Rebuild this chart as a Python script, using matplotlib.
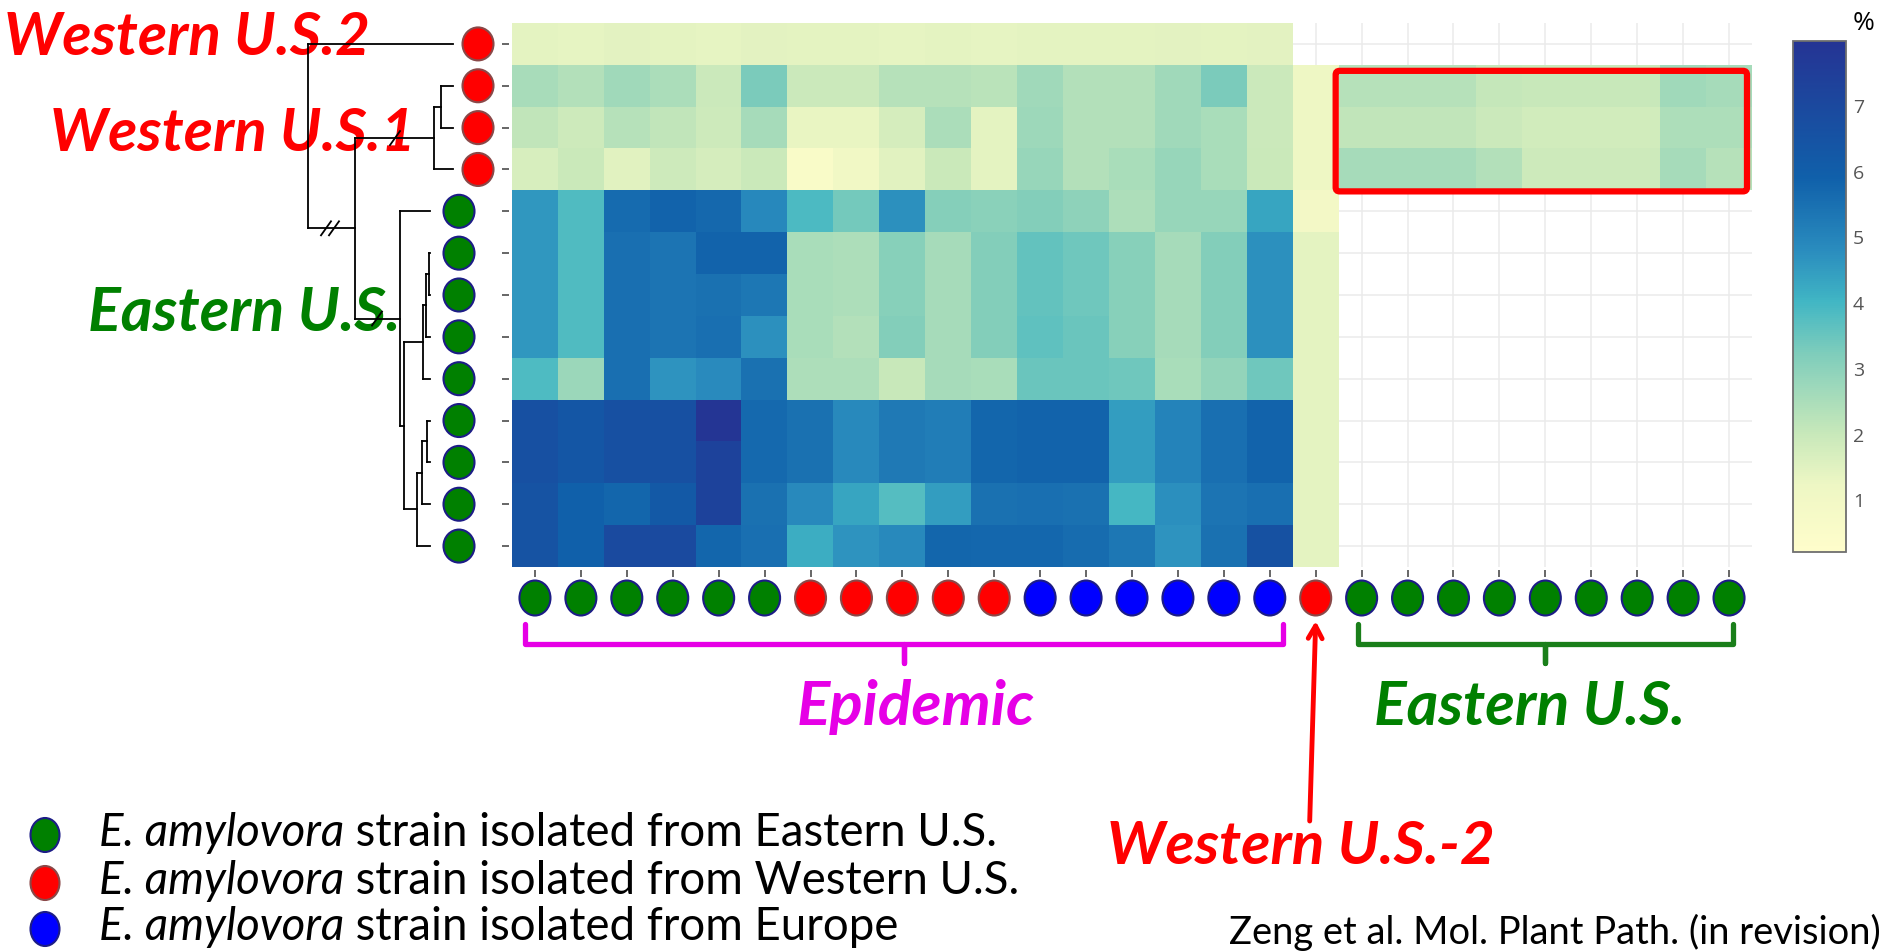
import numpy as np
import matplotlib
matplotlib.use('Agg')
import matplotlib.pyplot as plt
from matplotlib.colors import LinearSegmentedColormap, Normalize
from matplotlib.patches import Ellipse, FancyBboxPatch

nan = np.nan

# origin of each strain: E = Eastern U.S., W = Western U.S., EU = Europe
row_origin = ['W'] * 4 + ['E'] * 9
col_origin = ['E'] * 6 + ['W'] * 5 + ['EU'] * 6 + ['W'] + ['E'] * 9

# percentages per cell, rows top -> bottom, columns left -> right (nan = empty)
pct_wus2 = [
    [1.40, 1.38, 1.42, 1.40, 1.38, 1.42, 1.40, 1.40, 1.38, 1.40, 1.36, 1.40, 1.40, 1.40, 1.42, 1.40, 1.42] + [nan] * 10,
]
pct_wus1 = [
    [2.52, 2.35, 2.64, 2.47, 1.90, 3.26, 1.90, 1.90, 2.27, 2.27, 2.23, 2.65, 2.34, 2.34, 2.65, 3.26, 1.90, 1.20,
     2.27, 2.27, 2.27, 2.03, 1.98, 1.98, 1.98, 2.64, 2.55],
    [2.10, 1.87, 2.27, 2.10, 1.87, 2.55, 1.30, 1.30, 1.70, 2.46, 1.41, 2.69, 2.34, 2.34, 2.64, 2.50, 1.90, 1.20,
     2.10, 2.10, 2.10, 1.93, 1.80, 1.80, 1.80, 2.44, 2.44],
    [1.68, 1.96, 1.47, 1.87, 1.70, 1.96, 0.53, 0.99, 1.47, 1.96, 1.41, 2.81, 2.34, 2.50, 2.81, 2.50, 1.96, 1.20,
     2.55, 2.55, 2.55, 2.34, 1.87, 1.87, 1.87, 2.55, 2.27],
]
pct_eus = [
    [4.60, 3.80, 5.62, 5.81, 5.68, 4.90, 3.85, 3.35, 4.70, 3.10, 3.00, 3.13, 2.96, 2.44, 2.81, 2.81, 4.30, 0.87] + [nan] * 9,
    [4.60, 3.80, 5.51, 5.38, 5.81, 5.81, 2.50, 2.44, 3.08, 2.55, 3.13, 3.55, 3.40, 3.08, 2.55, 3.14, 4.70, 1.41] + [nan] * 9,
    [4.60, 3.80, 5.51, 5.38, 5.47, 5.30, 2.50, 2.44, 3.08, 2.55, 3.13, 3.55, 3.40, 3.08, 2.55, 3.14, 4.70, 1.41] + [nan] * 9,
    [4.60, 3.80, 5.51, 5.38, 5.51, 4.70, 2.50, 2.35, 3.13, 2.55, 3.13, 3.60, 3.45, 3.08, 2.55, 3.14, 4.70, 1.41] + [nan] * 9,
    [3.83, 2.73, 5.51, 4.65, 4.82, 5.47, 2.44, 2.44, 1.97, 2.55, 2.50, 3.45, 3.45, 3.40, 2.50, 2.86, 3.40, 1.41] + [nan] * 9,
    [6.63, 6.34, 6.63, 6.63, 7.90, 5.64, 5.47, 4.86, 5.25, 5.17, 5.75, 5.80, 5.80, 4.45, 5.00, 5.51, 5.80, 1.41] + [nan] * 9,
    [6.63, 6.34, 6.63, 6.63, 7.27, 5.64, 5.47, 4.86, 5.25, 5.17, 5.75, 5.80, 5.80, 4.45, 5.00, 5.51, 5.80, 1.41] + [nan] * 9,
    [6.49, 5.90, 5.73, 6.19, 7.27, 5.47, 4.85, 4.30, 3.75, 4.45, 5.47, 5.51, 5.47, 3.95, 4.75, 5.36, 5.51, 1.41] + [nan] * 9,
    [6.49, 5.90, 6.88, 6.88, 5.73, 5.51, 4.15, 4.65, 4.85, 5.73, 5.70, 5.70, 5.60, 5.30, 4.65, 5.47, 6.56, 1.41] + [nan] * 9,
]
pct = np.array(pct_wus2 + pct_wus1 + pct_eus)

# colour scale
scale_vals = [0.2, 1.2, 2.0, 3.2, 4.0, 4.8, 5.9, 7.97]
scale_cols = ['#fffdcb', '#eef7c4', '#c7e8ba', '#7fcdbb', '#41b6c4', '#2a8cbe', '#1060aa', '#253494']
cbar_ticks = [1, 2, 3, 4, 5, 6, 7]

# dendrogram: node -> (children, x of the node bar in px); ints are heatmap rows
tree = {
    'a': ([5, 6], 429),
    'b': (['a', 7], 426),
    'c': (['b', 8], 423),
    'd': ([9, 10], 427),
    'e': (['d', 11], 422),
    'f': (['e', 12], 417),
    'g': (['c', 'f'], 404),
    'h': ([4, 'g'], 400),
    'i': ([1, 2], 441),
    'j': (['i', 3], 434),
    'k': (['j', 'h'], 355),
    'root': ([0, 'k'], 308),
}
leaf_tip = [453] * 4 + [430] * 9
# broken branches: (node the branch leads to, x, number of slashes)
breaks = [('k', 326, 2), ('j', 395, 1), ('h', 377, 1)]

legend_regions = ['Eastern U.S.', 'Western U.S.', 'Europe']
legend_origin = ['E', 'W', 'EU']

fill = {'E': '#008000', 'W': '#ff0000', 'EU': '#0000ff'}
edge = {'E': '#1c1c86', 'W': '#8a4848', 'EU': '#1c1c86'}

# ---- layout (pixels) ----
W, H = 1886, 953
hm_left, hm_top, hm_right, hm_bottom = 512, 24, 1752, 568
nrow, ncol = pct.shape
cw = (hm_right - hm_left) / ncol
rh = (hm_bottom - hm_top) / nrow


def cx(j):
    return hm_left + (j + 0.5) * cw


def ry(i):
    return hm_top + (i + 0.5) * rh


cmap = LinearSegmentedColormap.from_list(
    'pct', [((v - scale_vals[0]) / (scale_vals[-1] - scale_vals[0]), c) for v, c in zip(scale_vals, scale_cols)])
cmap.set_bad((1, 1, 1, 0))
norm = Normalize(scale_vals[0], scale_vals[-1])

fig = plt.figure(figsize=(W / 100, H / 100), dpi=100)

# heatmap
ax = fig.add_axes([hm_left / W, 1 - hm_bottom / H, (hm_right - hm_left) / W, (hm_bottom - hm_top) / H])
im = ax.imshow(np.ma.masked_invalid(pct), cmap=cmap, norm=norm, aspect='auto',
               interpolation='nearest', zorder=1)
ax.set_xlim(-0.5, ncol - 0.5)
ax.set_ylim(nrow - 0.5, -0.5)
ax.set_xticks(range(ncol))
ax.set_yticks(range(nrow))
ax.set_xticklabels([])
ax.set_yticklabels([])
for s in ax.spines.values():
    s.set_visible(False)
ax.spines['left'].set_position(('outward', 2))
ax.spines['bottom'].set_position(('outward', 2))
ax.tick_params(length=5, width=1.2, color='#4d4d4d')
ax.set_axisbelow(True)
ax.grid(color='#ebebeb', lw=1.1)

# colour bar
cax = fig.add_axes([1793 / W, 1 - 553 / H, 53 / W, 511 / H])
cb = fig.colorbar(im, cax=cax, ticks=cbar_ticks)
cb.outline.set_edgecolor('#6e6e6e')
cb.outline.set_linewidth(1.3)
cax.tick_params(length=0, labelsize=14, labelcolor='#555555', pad=5)
for lbl in cax.get_yticklabels():
    lbl.set_fontfamily('Open Sans')

# everything else drawn in pixel space
ov = fig.add_axes([0, 0, 1, 1])
ov.set_xlim(0, W)
ov.set_ylim(H, 0)
ov.axis('off')
renderer = fig.canvas.get_renderer()

ov.text(1864, 24, '%', fontsize=19, ha='center', va='center', family='Open Sans')


def fitted(x, y, s, width, ha='left', **kw):
    t = ov.text(x, y, s, fontsize=30, ha=ha, va='baseline', **kw)
    w = t.get_window_extent(renderer).width
    t.set_fontsize(30 * width / w)
    return t


big = dict(family='Lato', weight='bold', style='italic', zorder=2)
fitted(4, 55, 'Western U.S.2', 366, color='#ff0000', **big)
fitted(50, 151, 'Western U.S.1', 365, color='#ff0000', **big)
fitted(88, 331, 'Eastern U.S.', 312, color='#008000', **big)
fitted(916, 725, 'Epidemic', 238, ha='center', color='#e600e6', **big)
fitted(1530, 725, 'Eastern U.S.', 311, ha='center', color='#008000', **big)
fitted(1301, 864, 'Western U.S.-2', 388, ha='center', color='#ff0000', **big)

# dendrogram
node_y = {}


def y_of(n):
    if isinstance(n, int):
        return ry(n)
    if n not in node_y:
        kids = tree[n][0]
        node_y[n] = (y_of(kids[0]) + y_of(kids[-1])) / 2
    return node_y[n]


def x_of(n):
    return leaf_tip[n] if isinstance(n, int) else tree[n][1]


line = dict(color='black', lw=1.3, zorder=3, solid_capstyle='projecting')
for n, (kids, x) in tree.items():
    ys = [y_of(k) for k in kids]
    ov.plot([x, x], [min(ys), max(ys)], **line)
    for k in kids:
        ov.plot([x, x_of(k)], [y_of(k), y_of(k)], **line)
for n, x, count in breaks:
    y = y_of(n)
    for m in range(count):
        ov.plot([x + 8 * m - 5, x + 8 * m + 5], [y + 7, y - 7], color='black', lw=1.3, zorder=3)

# strain markers
for i, o in enumerate(row_origin):
    ov.add_patch(Ellipse((478 if o == 'W' else 459, ry(i)), 31, 33, fc=fill[o], ec=edge[o], lw=1.5, zorder=4))
for j, o in enumerate(col_origin):
    ov.add_patch(Ellipse((cx(j), 599), 31, 35, fc=fill[o], ec=edge[o], lw=1.5, zorder=4))

# highlight box
bx0, bx1 = hm_left + 18 * cw - 3, hm_left + ncol * cw - 5
by0, by1 = hm_top + rh + 6, hm_top + 4 * rh + 1
ov.add_patch(FancyBboxPatch((bx0, by0), bx1 - bx0, by1 - by0, boxstyle='round,pad=0,rounding_size=4',
                            fill=False, ec='#ff0000', lw=4.5, zorder=5))


# brackets under the columns
def bracket(x0, x1, color):
    xc = (x0 + x1) / 2
    ov.plot([x0, x0, xc, xc, xc, x1, x1], [625, 645, 645, 664, 645, 645, 625], color=color, lw=3.8,
            solid_joinstyle='round', solid_capstyle='round', zorder=3)


bracket(cx(0) - 10, cx(16) + 13, '#e600e6')
bracket(cx(18) - 4, cx(26) + 4, '#1a7f1a')

ov.annotate('', xy=(cx(17), 622), xytext=(cx(17) - 6, 822),
            arrowprops=dict(arrowstyle='->,head_length=0.9,head_width=0.5', color='#ff0000', lw=3.5,
                            shrinkA=0, shrinkB=0))

# legend
leg_y = [846, 894, 940]
base = dict(fontsize=30, va='baseline', family='Lato')
t1 = ov.text(99, leg_y[0], 'E. amylovora', style='italic', **base)
t2 = ov.text(99, leg_y[0], ' strain isolated from ' + legend_regions[0], **base)
wtot = t1.get_window_extent(renderer).width + t2.get_window_extent(renderer).width
fs_leg = 30 * 897 / wtot
t1.remove()
t2.remove()
for y, region, o in zip(leg_y, legend_regions, legend_origin):
    ov.add_patch(Ellipse((45, y - 10), 29, 34, fc=fill[o], ec=edge[o], lw=1.5))
    it = ov.text(99, y, 'E. amylovora', style='italic', fontsize=fs_leg, va='baseline', family='Lato')
    ov.annotate(' strain isolated from ' + region, xy=(1, 0), xycoords=it, va='bottom',
                fontsize=fs_leg, family='Lato')

# citation, squeezed to end just inside the right edge
fitted(1229, 944, 'Zeng et al. Mol. Plant Path. (in revision)', 650, family='Lato')

fig.savefig('out.png', dpi=100)
